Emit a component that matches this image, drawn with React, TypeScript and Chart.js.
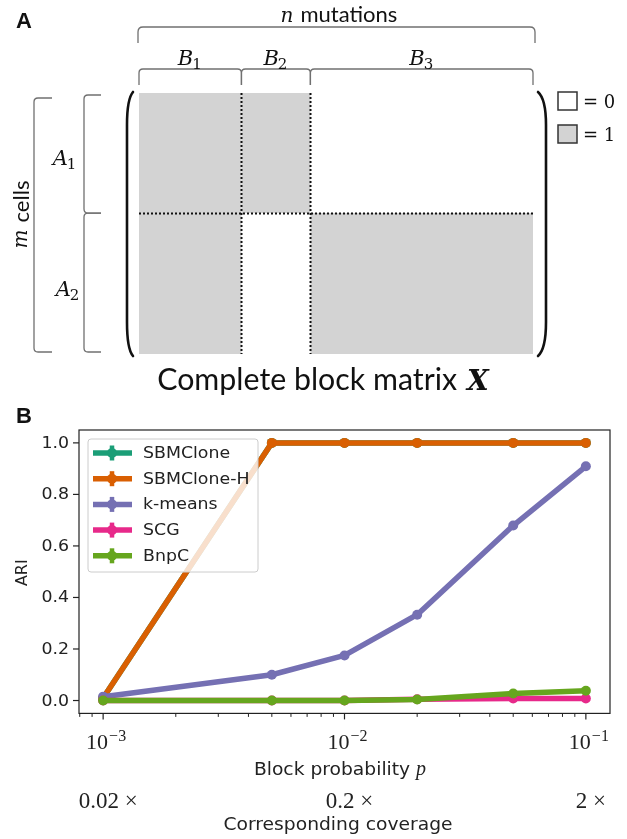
import React, { useEffect, useRef } from "react";
import { Chart, registerables } from "chart.js";

Chart.register(...registerables);

// ---------------- Panel A data (block structure) ----------------
const columnBlockNames = ["1", "2", "3"]; // B_1, B_2, B_3
const columnBlockSizes = [104, 70, 226]; // mutations in each block (n = 400)
const rowBlockNames = ["1", "2"]; // A_1, A_2
const rowBlockSizes = [46, 54]; // cells in each block (m = 100)
const blockRowA1 = [1, 1, 0];
const blockRowA2 = [1, 0, 1];
const matrixLegendValues = ["0", "1"];

// ---------------- Panel B data ----------------
const blockProbabilities = [0.001, 0.005, 0.01, 0.02, 0.05, 0.1];
const methodNames = ["SBMClone", "SBMClone-H", "k-means", "SCG", "BnpC"];
const methodColors = ["#1b9e77", "#d95f02", "#7570b3", "#e7298a", "#66a61e"];
const ariSBMClone = [0.01, 1.0, 1.0, 1.0, 1.0, 1.0];
const ariSBMCloneH = [0.01, 1.0, 1.0, 1.0, 1.0, 1.0];
const ariKMeans = [0.015, 0.1, 0.175, 0.333, 0.679, 0.909];
const ariSCG = [0.0, 0.0, 0.0, 0.005, 0.008, 0.008];
const ariBnpC = [0.0, 0.0, 0.0, 0.004, 0.027, 0.038];
const yTickValues = [0, 0.2, 0.4, 0.6, 0.8, 1.0];
const xTickValues = [0.001, 0.01, 0.1];
const xTickExponents = ["\u22123", "\u22122", "\u22121"];
const coverageLabels = ["0.02 \u00d7", "0.2 \u00d7", "2 \u00d7"];

const SERIF = '"DejaVu Serif", serif';
const SANS = '"DejaVu Sans", sans-serif';
const CAL = 'Lato, "Open Sans", sans-serif';

function cumulative(sizes: number[]) {
  const out = [0];
  sizes.forEach((s) => out.push(out[out.length - 1] + s));
  return out;
}

function drawText(
  ctx: CanvasRenderingContext2D,
  s: string,
  x: number,
  y: number,
  font: string,
  align: CanvasTextAlign = "left",
  baseline: CanvasTextBaseline = "alphabetic",
  sx = 1,
  color = "#111"
) {
  ctx.save();
  ctx.font = font;
  ctx.fillStyle = color;
  ctx.textAlign = align;
  ctx.textBaseline = baseline;
  ctx.translate(x, y);
  ctx.scale(sx, 1);
  ctx.fillText(s, 0, 0);
  ctx.restore();
}

function textWidth(ctx: CanvasRenderingContext2D, s: string, font: string, sx = 1) {
  ctx.save();
  ctx.font = font;
  const w = ctx.measureText(s).width * sx;
  ctx.restore();
  return w;
}

function fitSize(ctx: CanvasRenderingContext2D, s: string, family: string, weight: string, target: number) {
  const w = textWidth(ctx, s, `${weight} 100px ${family}`);
  return (100 * target) / w;
}

function hBracket(ctx: CanvasRenderingContext2D, x1: number, x2: number, yLine: number, yEnd: number, r: number) {
  ctx.beginPath();
  ctx.moveTo(x1, yEnd);
  ctx.lineTo(x1, yLine + r);
  ctx.quadraticCurveTo(x1, yLine, x1 + r, yLine);
  ctx.lineTo(x2 - r, yLine);
  ctx.quadraticCurveTo(x2, yLine, x2, yLine + r);
  ctx.lineTo(x2, yEnd);
  ctx.stroke();
}

function vBracket(ctx: CanvasRenderingContext2D, y1: number, y2: number, xLine: number, xEnd: number, r: number) {
  ctx.beginPath();
  ctx.moveTo(xEnd, y1);
  ctx.lineTo(xLine + r, y1);
  ctx.quadraticCurveTo(xLine, y1, xLine, y1 + r);
  ctx.lineTo(xLine, y2 - r);
  ctx.quadraticCurveTo(xLine, y2, xLine + r, y2);
  ctx.lineTo(xEnd, y2);
  ctx.stroke();
}

function drawSubscripted(
  ctx: CanvasRenderingContext2D,
  base: string,
  sub: string,
  cx: number,
  baseline: number,
  mainSize: number
) {
  const fMain = `italic ${mainSize}px ${SERIF}`;
  const fSub = `${Math.round(mainSize * 0.7)}px ${SERIF}`;
  const w1 = textWidth(ctx, base, fMain);
  const w2 = textWidth(ctx, sub, fSub);
  const x0 = cx - (w1 + w2) / 2;
  drawText(ctx, base, x0, baseline, fMain);
  drawText(ctx, sub, x0 + w1 - 1, baseline + 4, fSub);
}

const panelAPlugin = {
  id: "panelA",
  afterDraw(chart: any) {
    const ctx: CanvasRenderingContext2D = chart.ctx;
    const xs = chart.scales.x;
    const ys = chart.scales.y;
    const colEdges = cumulative(columnBlockSizes);
    const rowEdges = cumulative(rowBlockSizes);
    const X = (v: number) => xs.getPixelForValue(v);
    const Y = (v: number) => ys.getPixelForValue(v);
    const L = X(0);
    const R = X(colEdges[colEdges.length - 1]);
    const T = Y(0);
    const B = Y(rowEdges[rowEdges.length - 1]);
    const matrix = [blockRowA1, blockRowA2];

    ctx.save();
    // cells
    ctx.fillStyle = "#d3d3d3";
    matrix.forEach((row, r) =>
      row.forEach((v, c) => {
        if (!v) return;
        const x0 = X(colEdges[c]);
        const x1 = X(colEdges[c + 1]);
        const y0 = Y(rowEdges[r]);
        const y1 = Y(rowEdges[r + 1]);
        ctx.fillRect(x0, y0, x1 - x0, y1 - y0);
      })
    );

    // dotted separators
    ctx.strokeStyle = "#111";
    ctx.lineWidth = 2;
    ctx.setLineDash([2, 2]);
    for (let c = 1; c < colEdges.length - 1; c++) {
      const x = Math.round(X(colEdges[c])) + 0.5;
      ctx.beginPath();
      ctx.moveTo(x, T);
      ctx.lineTo(x, B);
      ctx.stroke();
    }
    for (let r = 1; r < rowEdges.length - 1; r++) {
      const y = Math.round(Y(rowEdges[r])) + 0.5;
      ctx.beginPath();
      ctx.moveTo(L, y);
      ctx.lineTo(R, y);
      ctx.stroke();
    }
    ctx.setLineDash([]);

    // parentheses
    ctx.strokeStyle = "#111";
    ctx.lineWidth = 2.6;
    ctx.lineCap = "round";
    ctx.beginPath();
    ctx.moveTo(L - 6, T - 1);
    ctx.quadraticCurveTo(L - 12, T + 6, L - 12, T + 32);
    ctx.lineTo(L - 12, B - 32);
    ctx.quadraticCurveTo(L - 12, B - 5, L - 6, B + 2);
    ctx.stroke();
    ctx.beginPath();
    ctx.moveTo(R + 5, T - 1);
    ctx.quadraticCurveTo(R + 13, T + 6, R + 13, T + 32);
    ctx.lineTo(R + 13, B - 32);
    ctx.quadraticCurveTo(R + 13, B - 5, R + 5, B + 2);
    ctx.stroke();
    ctx.lineCap = "butt";

    // brackets
    ctx.strokeStyle = "#707070";
    ctx.lineWidth = 1.3;
    hBracket(ctx, L - 1, R + 2, T - 66, T - 50, 5);
    for (let c = 0; c < colEdges.length - 1; c++) {
      hBracket(ctx, X(colEdges[c]), X(colEdges[c + 1]), T - 24, T - 8, 4);
    }
    for (let r = 0; r < rowEdges.length - 1; r++) {
      const y0 = Y(rowEdges[r]) + (r === 0 ? 2 : 0);
      const y1 = Y(rowEdges[r + 1]) - (r === rowEdges.length - 2 ? 2 : 0);
      vBracket(ctx, y0, y1, L - 55, L - 38, 4);
    }
    vBracket(ctx, T + 5, B - 2, L - 105, L - 87, 4);

    // "n mutations"
    const calSize = fitSize(ctx, "mutations", CAL, "400", 97);
    const fCal = `400 ${calSize}px ${CAL}`;
    const fVar = `italic 20px ${SERIF}`;
    const wn = textWidth(ctx, "n", fVar);
    const wm = textWidth(ctx, "mutations", fCal);
    const gap = 7;
    const startN = (L + R) / 2 + 3 - (wn + gap + wm) / 2;
    drawText(ctx, "n", startN, T - 71, fVar);
    drawText(ctx, "mutations", startN + wn + gap, T - 71, fCal);

    // B labels
    for (let c = 0; c < colEdges.length - 1; c++) {
      const cx = (X(colEdges[c]) + X(colEdges[c + 1])) / 2;
      drawSubscripted(ctx, "B", columnBlockNames[c], cx, T - 28, 21);
    }
    // A labels
    for (let r = 0; r < rowEdges.length - 1; r++) {
      const cy = (Y(rowEdges[r]) + Y(rowEdges[r + 1])) / 2;
      drawSubscripted(ctx, "A", rowBlockNames[r], L - 74 + r * 3, cy + 12, 21);
    }

    // "m cells" rotated
    ctx.save();
    ctx.translate(L - 117, (T + B) / 2 - 9);
    ctx.rotate(-Math.PI / 2);
    const wm2 = textWidth(ctx, "m", fVar);
    const wc = textWidth(ctx, "cells", fCal);
    const s0 = -(wm2 + gap + wc) / 2;
    drawText(ctx, "m", s0, 0, fVar, "left", "middle");
    drawText(ctx, "cells", s0 + wm2 + gap, 0, fCal, "left", "middle");
    ctx.restore();

    // "Complete block matrix X"
    const cbSize = fitSize(ctx, "Complete block matrix", CAL, "400", 300);
    const fCb = `400 ${cbSize}px ${CAL}`;
    const fX = `bold italic 28px ${SERIF}`;
    const w1 = textWidth(ctx, "Complete block matrix", fCb);
    const w2 = textWidth(ctx, "X", fX);
    const cbStart = (L + R) / 2 - 13 - (w1 + 10 + w2) / 2;
    drawText(ctx, "Complete block matrix", cbStart, B + 36, fCb);
    drawText(ctx, "X", cbStart + w1 + 10, B + 36, fX);

    // legend for matrix values
    matrixLegendValues.forEach((v, i) => {
      const y0 = T - 1 + i * 33;
      ctx.fillStyle = v === "1" ? "#d3d3d3" : "#ffffff";
      ctx.fillRect(R + 25, y0, 19, 18);
      ctx.strokeStyle = "#333";
      ctx.lineWidth = 1.5;
      ctx.strokeRect(R + 25, y0, 19, 18);
      drawText(ctx, "= " + v, R + 50, y0 + 16, `18px ${SERIF}`);
    });

    // panel letter
    drawText(ctx, "A", 16, 28, `bold 22px "Liberation Sans", Arial, sans-serif`);
    ctx.restore();
  },
};

const panelBPlugin = {
  id: "panelB",
  afterDatasetsDraw(chart: any) {
    const ctx: CanvasRenderingContext2D = chart.ctx;
    const ca = chart.chartArea;
    const xs = chart.scales.x;
    const ys = chart.scales.y;
    const ink = "#222";
    ctx.save();

    // frame
    ctx.strokeStyle = ink;
    ctx.lineWidth = 1.2;
    ctx.strokeRect(ca.left, ca.top, ca.right - ca.left, ca.bottom - ca.top);

    // y ticks and labels
    yTickValues.forEach((v) => {
      const y = ys.getPixelForValue(v);
      ctx.beginPath();
      ctx.moveTo(ca.left - 6, y);
      ctx.lineTo(ca.left, y);
      ctx.stroke();
      drawText(ctx, v.toFixed(1), ca.left - 10, y + 1, `15.5px ${SANS}`, "right", "middle", 1.12, ink);
    });

    // x ticks (major + minor, log scale)
    const lo = xs.min;
    const hi = xs.max;
    for (let e = -4; e <= 0; e++) {
      for (let k = 1; k <= 9; k++) {
        const v = k * Math.pow(10, e);
        if (v < lo * 0.9999 || v > hi * 1.0001) continue;
        const x = xs.getPixelForValue(v);
        const len = k === 1 ? 6 : 3.5;
        ctx.lineWidth = k === 1 ? 1.2 : 1;
        ctx.beginPath();
        ctx.moveTo(x, ca.bottom);
        ctx.lineTo(x, ca.bottom + len);
        ctx.stroke();
      }
    }

    // x tick labels 10^k and coverage labels
    const fTen = `22px "Liberation Serif", serif`;
    const fSup = `16px "Liberation Serif", serif`;
    xTickValues.forEach((v, i) => {
      const x = xs.getPixelForValue(v) + 3;
      const w1 = textWidth(ctx, "10", fTen);
      const w2 = textWidth(ctx, xTickExponents[i], fSup);
      const x0 = x - (w1 + w2 + 1) / 2;
      drawText(ctx, "10", x0, ca.bottom + 35.6, fTen, "left", "alphabetic", 1, ink);
      drawText(ctx, xTickExponents[i], x0 + w1 + 1, ca.bottom + 27.6, fSup, "left", "alphabetic", 1, ink);
      drawText(ctx, coverageLabels[i], x + 2, ca.bottom + 94.6, `23px "Liberation Serif", serif`, "center", "alphabetic", 1, ink);
    });

    // x axis title
    const fLab = `17px ${SANS}`;
    const fP = `italic 20px "Liberation Serif", serif`;
    const wt = textWidth(ctx, "Block probability ", fLab, 1.1);
    const wp = textWidth(ctx, "p", fP);
    const xt = 340 - (wt + wp) / 2;
    drawText(ctx, "Block probability ", xt, ca.bottom + 61.6, fLab, "left", "alphabetic", 1.1, ink);
    drawText(ctx, "p", xt + wt, ca.bottom + 61.6, fP, "left", "alphabetic", 1, ink);
    drawText(ctx, "Corresponding coverage", 338, ca.bottom + 116.6, fLab, "center", "alphabetic", 1.1, ink);

    // y axis title
    ctx.save();
    ctx.translate(22.5, (ca.top + ca.bottom) / 2 + 1);
    ctx.rotate(-Math.PI / 2);
    drawText(ctx, "ARI", 0, 0, `16px ${SANS}`, "center", "middle", 1, ink);
    ctx.restore();

    // legend
    const lx = ca.left + 9;
    const ly = ca.top + 9;
    const lw = 170;
    const lh = 133;
    ctx.beginPath();
    ctx.roundRect(lx, ly, lw, lh, 3);
    ctx.fillStyle = "rgba(255,255,255,0.8)";
    ctx.fill();
    ctx.strokeStyle = "#cccccc";
    ctx.lineWidth = 1;
    ctx.stroke();
    chart.data.datasets.forEach((ds: any, i: number) => {
      const y = ly + 14 + i * 25.7;
      ctx.strokeStyle = ds.borderColor;
      ctx.fillStyle = ds.borderColor;
      ctx.lineWidth = 5.5;
      ctx.beginPath();
      ctx.moveTo(lx + 5, y);
      ctx.lineTo(lx + 44, y);
      ctx.stroke();
      ctx.lineWidth = 4.5;
      ctx.beginPath();
      ctx.moveTo(lx + 24, y - 7.5);
      ctx.lineTo(lx + 24, y + 7.5);
      ctx.stroke();
      ctx.beginPath();
      ctx.arc(lx + 24, y, 5, 0, Math.PI * 2);
      ctx.fill();
      drawText(ctx, ds.label, lx + 55, y + 1, `15.5px ${SANS}`, "left", "middle", 1.12, ink);
    });

    // panel letter
    drawText(ctx, "B", 16, 23, `bold 22px "Liberation Sans", Arial, sans-serif`);
    ctx.restore();
  },
};

export default function App() {
  const refA = useRef<HTMLCanvasElement | null>(null);
  const refB = useRef<HTMLCanvasElement | null>(null);

  useEffect(() => {
    if (!refA.current || !refB.current) return;
    const nTotal = columnBlockSizes.reduce((a, b) => a + b, 0);
    const mTotal = rowBlockSizes.reduce((a, b) => a + b, 0);

    const chartA = new Chart(refA.current, {
      type: "scatter",
      data: { datasets: [] },
      options: {
        responsive: false,
        animation: false,
        events: [],
        layout: { padding: { left: 139, right: 94, top: 93, bottom: 46 } },
        plugins: { legend: { display: false }, tooltip: { enabled: false } },
        scales: {
          x: { type: "linear", min: 0, max: nTotal, display: false },
          y: { type: "linear", min: 0, max: mTotal, reverse: true, display: false },
        },
      },
      plugins: [panelAPlugin],
    } as any);

    const series = [ariSBMClone, ariSBMCloneH, ariKMeans, ariSCG, ariBnpC];
    const chartB = new Chart(refB.current, {
      type: "line",
      data: {
        datasets: series.map((vals, i) => ({
          label: methodNames[i],
          data: blockProbabilities.map((p, j) => ({ x: p, y: vals[j] })),
          borderColor: methodColors[i],
          backgroundColor: methodColors[i],
          pointBackgroundColor: methodColors[i],
          pointBorderColor: methodColors[i],
          pointBorderWidth: 0,
          pointRadius: 5,
          borderWidth: 5.5,
          borderJoinStyle: "round",
          tension: 0,
          fill: false,
          order: series.length - i,
        })),
      },
      options: {
        responsive: false,
        animation: false,
        events: [],
        layout: { padding: { left: 79, right: 17, top: 30, bottom: 125.6 } },
        plugins: { legend: { display: false }, tooltip: { enabled: false } },
        scales: {
          x: {
            type: "logarithmic",
            min: Math.pow(10, -3.1),
            max: Math.pow(10, -0.9),
            display: false,
          },
          y: { type: "linear", min: -0.05, max: 1.05, display: false },
        },
      },
      plugins: [panelBPlugin],
    } as any);

    return () => {
      chartA.destroy();
      chartB.destroy();
    };
  }, []);

  return (
    <div style={{ position: "absolute", left: 0, top: 0, width: 627, height: 839, background: "#fff" }}>
      <canvas
        ref={refA}
        width={627}
        height={400}
        style={{ position: "absolute", left: 0, top: 0, width: 627, height: 400 }}
      />
      <canvas
        ref={refB}
        width={627}
        height={439}
        style={{ position: "absolute", left: 0, top: 400, width: 627, height: 439 }}
      />
    </div>
  );
}
